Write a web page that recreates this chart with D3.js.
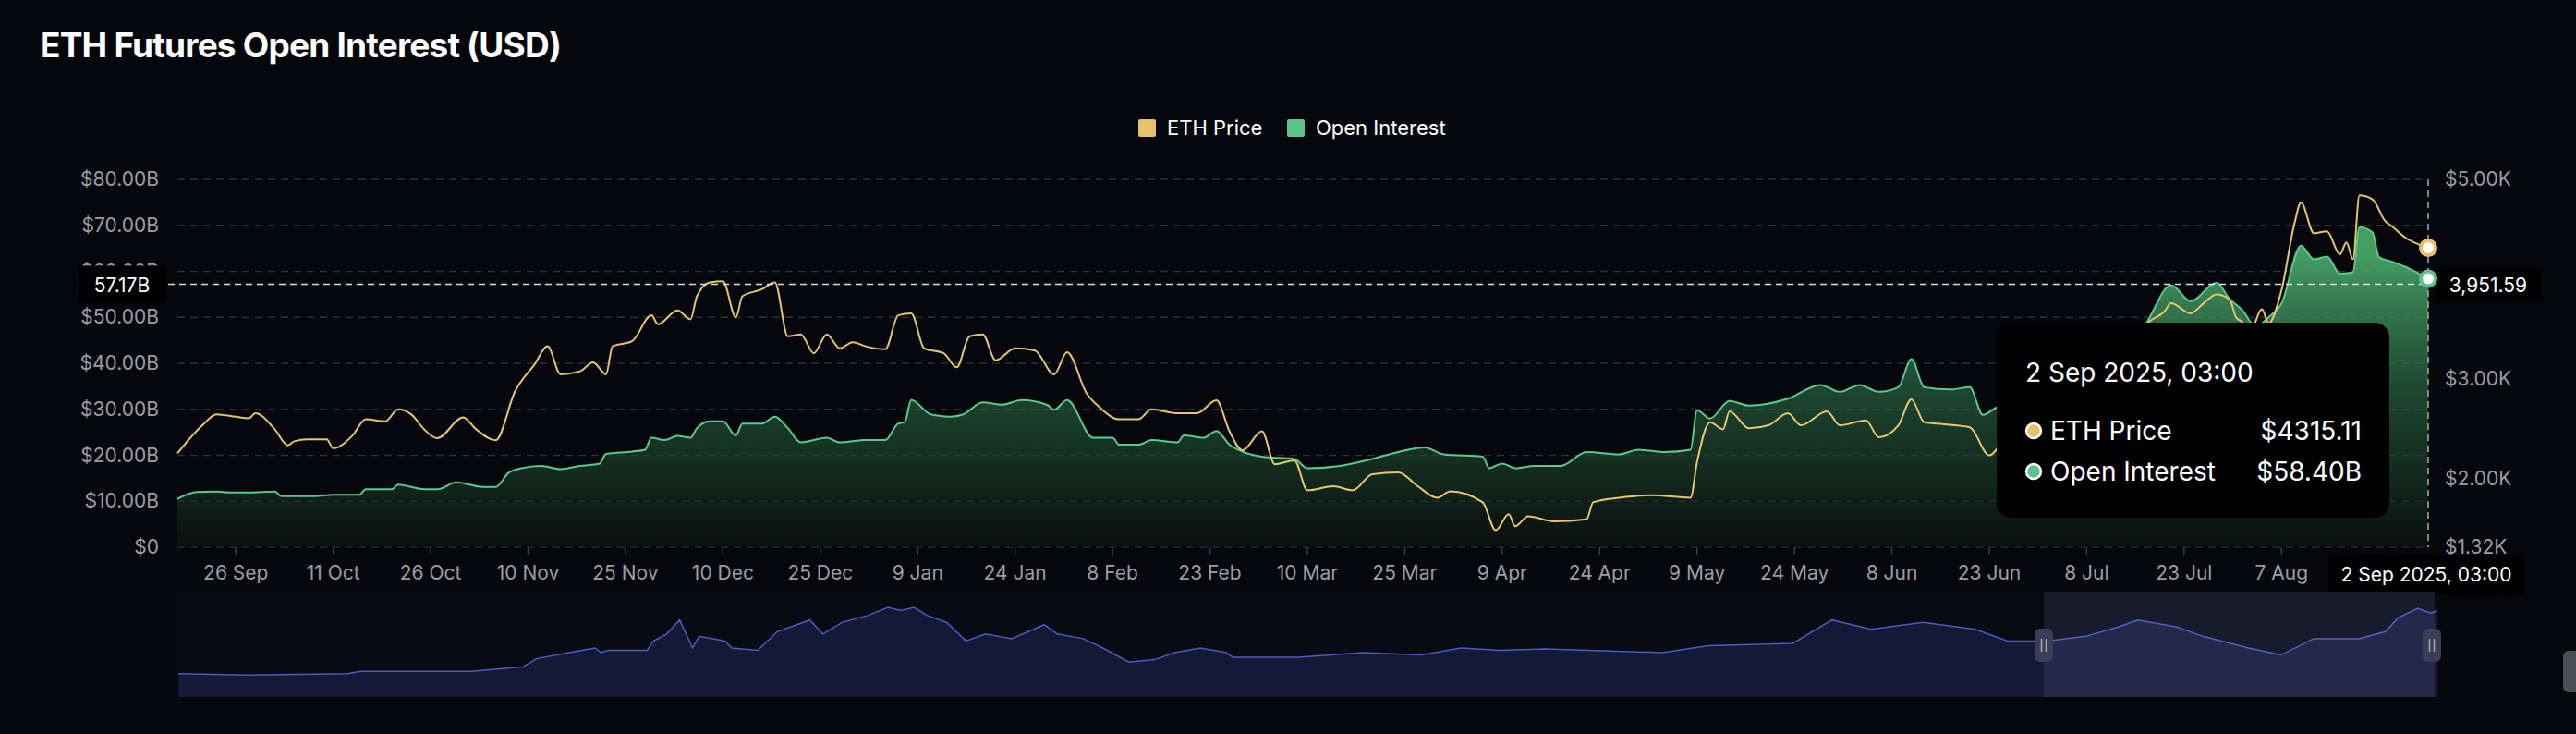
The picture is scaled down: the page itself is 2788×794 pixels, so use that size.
<!DOCTYPE html>
<html><head><meta charset="utf-8">
<script src="https://cdn.jsdelivr.net/npm/d3@7"></script>
<style>html,body{margin:0;padding:0;background:#06070c;}svg{display:block;font-family:Inter,"Noto Sans",sans-serif;}</style>
</head><body><svg id="c" width="2788" height="794"></svg>
<script>
const priceDates=["2024-09-17","2024-09-21","2024-09-23","2024-09-26","2024-09-28","2024-09-29","2024-10-02","2024-10-04","2024-10-05","2024-10-07","2024-10-10","2024-10-11","2024-10-14","2024-10-16","2024-10-19","2024-10-21","2024-10-23","2024-10-25","2024-10-27","2024-10-31","2024-11-02","2024-11-05","2024-11-08","2024-11-11","2024-11-13","2024-11-15","2024-11-18","2024-11-20","2024-11-22","2024-11-23","2024-11-26","2024-11-29","2024-11-30","2024-12-03","2024-12-05","2024-12-06","2024-12-08","2024-12-10","2024-12-12","2024-12-13","2024-12-16","2024-12-18","2024-12-20","2024-12-22","2024-12-24","2024-12-26","2024-12-28","2024-12-30","2025-01-01","2025-01-04","2025-01-06","2025-01-08","2025-01-10","2025-01-13","2025-01-15","2025-01-17","2025-01-19","2025-01-21","2025-01-24","2025-01-27","2025-01-30","2025-02-01","2025-02-04","2025-02-06","2025-02-09","2025-02-12","2025-02-14","2025-02-18","2025-02-21","2025-02-24","2025-02-26","2025-02-28","2025-03-03","2025-03-05","2025-03-08","2025-03-10","2025-03-14","2025-03-17","2025-03-20","2025-03-24","2025-03-27","2025-03-30","2025-04-01","2025-04-06","2025-04-08","2025-04-10","2025-04-11","2025-04-13","2025-04-17","2025-04-22","2025-04-23","2025-04-27","2025-05-02","2025-05-08","2025-05-09","2025-05-11","2025-05-13","2025-05-14","2025-05-17","2025-05-20","2025-05-23","2025-05-25","2025-05-29","2025-05-31","2025-06-04","2025-06-06","2025-06-09","2025-06-11","2025-06-13","2025-06-16","2025-06-20","2025-06-23","2025-06-26","2025-06-30","2025-07-03","2025-07-07","2025-07-10","2025-07-13","2025-07-16","2025-07-17","2025-07-20","2025-07-21","2025-07-24","2025-07-26","2025-07-28","2025-07-30","2025-07-31","2025-08-01","2025-08-02","2025-08-04","2025-08-05","2025-08-07","2025-08-09","2025-08-10","2025-08-12","2025-08-14","2025-08-16","2025-08-17","2025-08-18","2025-08-19","2025-08-21","2025-08-23","2025-08-24","2025-08-26","2025-08-29T14:00"];
const priceValues=[2260,2550,2650,2625,2610,2660,2500,2340,2380,2400,2400,2310,2440,2600,2580,2700,2650,2500,2410,2620,2500,2390,2880,3150,3330,3050,3080,3170,3050,3330,3380,3640,3550,3690,3600,3830,3970,3980,3620,3830,3900,3970,3430,3450,3260,3450,3310,3370,3330,3300,3640,3660,3310,3260,3120,3430,3450,3190,3310,3290,3050,3270,2860,2720,2600,2600,2700,2660,2660,2790,2480,2290,2480,2150,2190,1890,1930,1890,2050,2070,1930,1815,1880,1770,1490,1650,1530,1630,1580,1600,1770,1815,1840,1815,2170,2570,2500,2680,2510,2540,2660,2540,2680,2540,2590,2420,2540,2800,2570,2550,2520,2240,2450,2500,2600,2550,2950,3000,3400,3530,3680,3760,3660,3760,3850,3800,3620,3570,3450,3700,3560,3890,4560,4770,4460,4480,4250,4370,4200,4840,4800,4580,4530,4420,4315];
const oiDates=["2024-09-17","2024-09-20","2024-09-23","2024-09-25","2024-09-28","2024-10-02","2024-10-03","2024-10-08","2024-10-11","2024-10-15","2024-10-16","2024-10-20","2024-10-21","2024-10-25","2024-10-27","2024-10-30","2024-11-03","2024-11-05","2024-11-07","2024-11-09","2024-11-12","2024-11-15","2024-11-18","2024-11-21","2024-11-22","2024-11-26","2024-11-28","2024-11-29","2024-12-01","2024-12-03","2024-12-05","2024-12-06","2024-12-08","2024-12-10","2024-12-12","2024-12-13","2024-12-16","2024-12-18","2024-12-20","2024-12-22","2024-12-26","2024-12-28","2025-01-01","2025-01-04","2025-01-06","2025-01-07","2025-01-08","2025-01-11","2025-01-14","2025-01-16","2025-01-19","2025-01-22","2025-01-25","2025-01-29","2025-01-30","2025-02-01","2025-02-05","2025-02-08","2025-02-09","2025-02-12","2025-02-14","2025-02-18","2025-02-19","2025-02-22","2025-02-24","2025-02-26","2025-02-28","2025-03-03","2025-03-08","2025-03-10","2025-03-15","2025-03-20","2025-03-24","2025-03-28","2025-03-31","2025-04-06","2025-04-07","2025-04-09","2025-04-11","2025-04-14","2025-04-18","2025-04-22","2025-04-27","2025-04-30","2025-05-04","2025-05-08","2025-05-09","2025-05-11","2025-05-14","2025-05-17","2025-05-23","2025-05-28","2025-05-31","2025-06-03","2025-06-06","2025-06-09","2025-06-11","2025-06-13","2025-06-17","2025-06-20","2025-06-22","2025-06-24","2025-06-28","2025-07-02","2025-07-07","2025-07-11","2025-07-14","2025-07-17","2025-07-21","2025-07-24","2025-07-28","2025-07-30","2025-08-01","2025-08-03","2025-08-05","2025-08-07","2025-08-10","2025-08-12","2025-08-14","2025-08-16","2025-08-18","2025-08-19","2025-08-21","2025-08-22","2025-08-24","2025-08-26","2025-08-29T14:00"];
const oiValues=[10.5,12.0,12.1,11.9,11.9,12.1,11.1,11.1,11.4,11.4,12.6,12.6,13.6,12.6,12.6,14.1,13.1,13.1,16.2,17.2,17.7,17.0,17.7,18.2,20.3,20.8,21.2,23.8,23.3,24.2,23.8,25.9,27.4,27.4,24.3,26.9,26.9,28.4,25.9,22.8,23.8,22.8,23.3,23.3,26.9,27.2,32.0,28.9,28.4,28.9,31.5,31.0,32.0,30.9,29.9,32.0,23.8,23.8,22.3,22.3,23.3,22.8,24.3,23.8,25.3,22.3,20.8,19.7,19.2,17.2,17.7,19.2,20.7,21.7,20.2,19.7,17.2,18.2,17.2,17.7,17.7,20.7,20.2,21.2,20.7,21.2,29.8,28.0,31.8,30.8,32.3,35.3,33.8,35.3,33.8,34.8,40.9,34.8,34.3,34.8,28.8,30.3,33,34,35,40,44,48.4,57.0,53.5,57.5,54.0,51.5,48,50,53,65.6,62.6,63.2,59.5,59.8,69.6,68.5,63.1,62.1,61.0,58.4];
const navDates=["2024-09-17","2024-09-28","2024-10-13","2024-10-15","2024-11-01","2024-11-09","2024-11-11","2024-11-16","2024-11-20","2024-11-21","2024-11-22","2024-11-28","2024-11-29","2024-12-01","2024-12-03","2024-12-05","2024-12-06","2024-12-10","2024-12-11","2024-12-15","2024-12-18","2024-12-23","2024-12-25","2024-12-28","2025-01-01","2025-01-04","2025-01-06","2025-01-08","2025-01-10","2025-01-13","2025-01-16","2025-01-19","2025-01-23","2025-01-28","2025-01-30","2025-02-03","2025-02-06","2025-02-10","2025-02-14","2025-02-17","2025-02-21","2025-02-25","2025-02-26","2025-03-05","2025-03-08","2025-03-18","2025-03-27","2025-04-02","2025-04-08","2025-04-15","2025-05-03","2025-05-10","2025-05-23","2025-05-29","2025-06-04","2025-06-12","2025-06-20","2025-06-25","2025-07-01","2025-07-07","2025-07-12","2025-07-15","2025-07-21","2025-07-25","2025-08-01","2025-08-06","2025-08-11","2025-08-18","2025-08-22","2025-08-24","2025-08-27","2025-08-29","2025-08-30"];
const navValues=[50,47,50,55,55,65,82,95,105,95,100,100,120,135,165,105,130,120,105,100,140,165,135,160,175,192,185,192,175,160,120,135,125,155,135,125,105,75,80,95,105,95,85,85,85,95,90,105,100,103,95,110,115,165,145,160,145,120,120,130,150,165,150,130,105,90,125,125,140,170,190,180,185];
const xTicks=["2024-09-26","2024-10-11","2024-10-26","2024-11-10","2024-11-25","2024-12-10","2024-12-25","2025-01-09","2025-01-24","2025-02-08","2025-02-23","2025-03-10","2025-03-25","2025-04-09","2025-04-24","2025-05-09","2025-05-24","2025-06-08","2025-06-23","2025-07-08","2025-07-23","2025-08-07"];
const oiTicks=[0,10,20,30,40,50,60,70,80];
const priceTicks=[1320,2000,3000,5000];
const priceTickLabels=["$1.32K","$2.00K","$3.00K","$5.00K"];
const title="ETH Futures Open Interest (USD)";
const tipDate="2 Sep 2025, 03:00", tipPrice="$4315.11", tipOI="$58.40B";
const crossOI=57.17, crossPriceLabel="3,951.59";

const P=d3.timeParse("%Y-%m-%d"), P2=d3.isoParse;
const pd=s=>s.length>10?P2(s):P(s);
const svg=d3.select("#c");
const L=192,R=2628,T=194,B=592;
const x=d3.scaleTime().domain([pd("2024-09-17"),pd("2025-08-29T14:00")]).range([L,R]);
const yO=d3.scaleLinear().domain([0,80]).range([B,T]);
const yP=d3.scaleLinear().domain([1320,5000]).range([B,T]);
const price=priceDates.map((d,i)=>({d:pd(d),v:priceValues[i]}));
const oi=oiDates.map((d,i)=>({d:pd(d),v:oiValues[i]}));
const nav=navDates.map((d,i)=>({d:pd(d),v:navValues[i]}));

const defs=svg.append("defs");
const g1=defs.append("linearGradient").attr("id","og").attr("gradientUnits","userSpaceOnUse").attr("x1",0).attr("x2",0).attr("y1",T+80).attr("y2",B);
g1.append("stop").attr("offset",0).attr("stop-color","#4fb873").attr("stop-opacity",0.85);
g1.append("stop").attr("offset",0.5).attr("stop-color","#2a6a44").attr("stop-opacity",0.6);
g1.append("stop").attr("offset",1).attr("stop-color","#0c1510").attr("stop-opacity",0.6);

svg.append("text").attr("x",43).attr("y",62).attr("fill","#fff").attr("font-size",37).attr("font-weight",700).attr("letter-spacing",-0.8).text(title);
// legend
svg.append("rect").attr("x",1232).attr("y",129).attr("width",19).attr("height",19).attr("rx",2).attr("fill","#e6c06a");
svg.append("text").attr("x",1263).attr("y",146).attr("fill","#fff").attr("font-size",22).text("ETH Price");
svg.append("rect").attr("x",1393).attr("y",129).attr("width",19).attr("height",19).attr("rx",2).attr("fill","#5cc48a");
svg.append("text").attr("x",1424).attr("y",146).attr("fill","#fff").attr("font-size",22).text("Open Interest");

// grid
svg.append("g").selectAll("line").data(oiTicks).join("line").attr("x1",L).attr("x2",R).attr("y1",d=>yO(d)).attr("y2",d=>yO(d)).attr("stroke","#2c2f38").attr("stroke-width",1.5).attr("stroke-dasharray","8,6");
svg.append("g").selectAll("text").data(oiTicks).join("text").attr("x",172).attr("y",d=>yO(d)+7).attr("text-anchor","end").attr("fill","#9b9da4").attr("font-size",21).text(d=>d===0?"$0":"$"+d.toFixed(2)+"B");
svg.append("g").selectAll("text").data(priceTicks).join("text").attr("x",2646).attr("y",d=>yP(d)+7).attr("fill","#9b9da4").attr("font-size",21).text((d,i)=>priceTickLabels[i]);
// x ticks
const xt=svg.append("g");
xt.selectAll("line").data(xTicks).join("line").attr("x1",d=>x(pd(d))).attr("x2",d=>x(pd(d))).attr("y1",B).attr("y2",B+8).attr("stroke","#3a3d46").attr("stroke-width",1.5);
xt.selectAll("text").data(xTicks).join("text").attr("x",d=>x(pd(d))).attr("y",627).attr("text-anchor","middle").attr("fill","#9b9da4").attr("font-size",21).text(d=>d3.timeFormat("%-d %b")(pd(d)));

// OI area + line
svg.append("path").datum(oi).attr("fill","url(#og)").attr("d",d3.area().x(d=>x(d.d)).y0(B).y1(d=>yO(d.v)).curve(d3.curveMonotoneX));
svg.append("path").datum(oi).attr("fill","none").attr("stroke","#5cc98c").attr("stroke-width",2).attr("d",d3.line().x(d=>x(d.d)).y(d=>yO(d.v)).curve(d3.curveMonotoneX));
svg.append("path").datum(price).attr("fill","none").attr("stroke","#e8c46e").attr("stroke-width",2).attr("d",d3.line().x(d=>x(d.d)).y(d=>yP(d.v)).curve(d3.curveMonotoneX));

// crosshair
const cy=yO(crossOI);
svg.append("line").attr("x1",L-10).attr("x2",R).attr("y1",cy).attr("y2",cy).attr("stroke","#ddd").attr("stroke-width",1.5).attr("stroke-dasharray","7,5");
svg.append("line").attr("x1",R).attr("x2",R).attr("y1",T).attr("y2",B).attr("stroke","#aaa").attr("stroke-width",1.5).attr("stroke-dasharray","7,5");
svg.append("rect").attr("x",85).attr("y",cy-20).attr("width",95).attr("height",40).attr("rx",4).attr("fill","#000");
svg.append("text").attr("x",132).attr("y",cy+8).attr("text-anchor","middle").attr("fill","#fff").attr("font-size",21).text(crossOI.toFixed(2)+"B");
svg.append("rect").attr("x",2636).attr("y",cy-18).attr("width",114).attr("height",36).attr("rx",4).attr("fill","#000");
svg.append("text").attr("x",2693).attr("y",cy+8).attr("text-anchor","middle").attr("fill","#fff").attr("font-size",21).text(crossPriceLabel);
const lastP=price[price.length-1], lastO=oi[oi.length-1];
svg.append("circle").attr("cx",x(lastP.d)).attr("cy",yP(lastP.v)).attr("r",8).attr("fill","#fff").attr("stroke","#e6c06a").attr("stroke-width",4);
svg.append("circle").attr("cx",x(lastO.d)).attr("cy",yO(lastO.v)).attr("r",8).attr("fill","#fff").attr("stroke","#5cc48a").attr("stroke-width",4);
svg.append("rect").attr("x",2520).attr("y",600).attr("width",212).attr("height",43).attr("rx",4).attr("fill","#000");
svg.append("text").attr("x",2626).attr("y",629).attr("text-anchor","middle").attr("fill","#fff").attr("font-size",21).text(tipDate);

// tooltip
svg.append("rect").attr("x",2161).attr("y",349).attr("width",425).attr("height",211).attr("rx",16).attr("fill","#000");
svg.append("text").attr("x",2192).attr("y",413).attr("fill","#fff").attr("font-size",28).text(tipDate);
[[tipPrice,"ETH Price","#e6c06a",466],[tipOI,"Open Interest","#5cc48a",510]].forEach(r=>{
  svg.append("circle").attr("cx",2201).attr("cy",r[3]).attr("r",8).attr("fill",r[2]).attr("stroke","#fff").attr("stroke-width",2.5);
  svg.append("text").attr("x",2219).attr("y",r[3]+10).attr("fill","#fff").attr("font-size",28).text(r[1]);
  svg.append("text").attr("x",2556).attr("y",r[3]+10).attr("text-anchor","end").attr("fill","#fff").attr("font-size",28).text(r[0]);
});

// navigator
const xN=d3.scaleTime().domain(x.domain()).range([193,2635]);
const yN=d3.scaleLinear().domain([0,200]).range([754,653]);
svg.append("rect").attr("x",193).attr("y",640).attr("width",2442).attr("height",114).attr("fill","#080a14");
svg.append("path").datum(nav).attr("fill","#141a36").attr("d",d3.area().x(d=>xN(d.d)).y0(754).y1(d=>yN(d.v)));
svg.append("path").datum(nav).attr("fill","none").attr("stroke","#4b5cc0").attr("stroke-width",1.5).attr("d",d3.line().x(d=>xN(d.d)).y(d=>yN(d.v)));
svg.append("rect").attr("x",2212).attr("y",640).attr("width",423).attr("height",114).attr("fill","#8090d0").attr("opacity",0.13);
[2212,2632].forEach(hx=>{
  svg.append("rect").attr("x",hx-10).attr("y",680).attr("width",20).attr("height",36).attr("rx",6).attr("fill","#3a3f55");
  svg.append("line").attr("x1",hx-2.5).attr("x2",hx-2.5).attr("y1",691).attr("y2",705).attr("stroke","#aab").attr("stroke-width",1.5);
  svg.append("line").attr("x1",hx+2.5).attr("x2",hx+2.5).attr("y1",691).attr("y2",705).attr("stroke","#aab").attr("stroke-width",1.5);
});
svg.append("rect").attr("x",2774).attr("y",704).attr("width",20).attr("height",45).attr("rx",6).attr("fill","#4a4d57");
</script></body></html>
